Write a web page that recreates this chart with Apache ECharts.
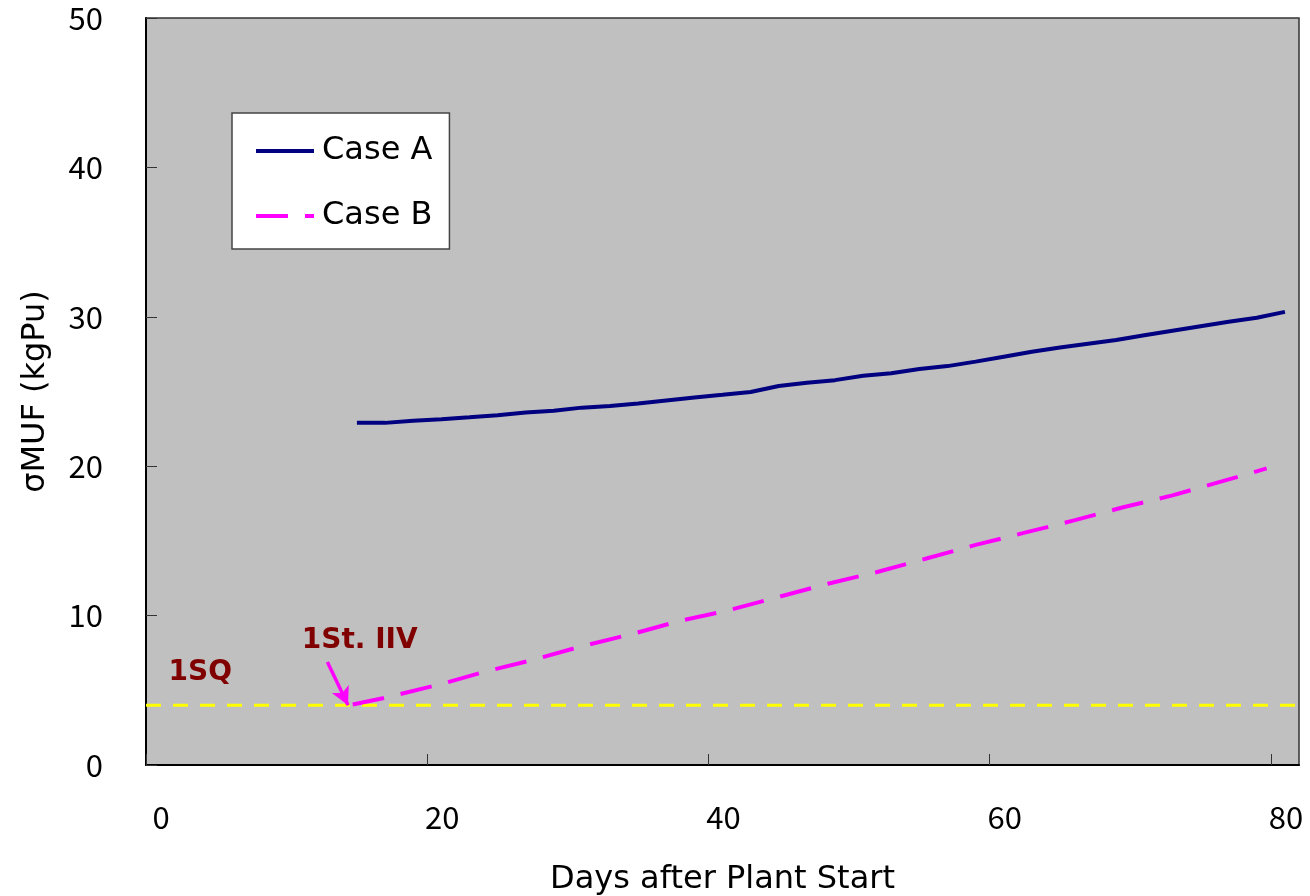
<!DOCTYPE html>
<html>
<head>
<meta charset="utf-8">
<script src="https://cdn.jsdelivr.net/npm/echarts@6/dist/echarts.min.js"></script>
<style>
  html, body { margin: 0; padding: 0; background: #fff; }
  #chart { width: 1310px; height: 896px; }
</style>
</head>
<body>
<div id="chart"></div>
<script>
// days / values
const daysA = [15, 17, 19, 21, 23, 25, 27, 29, 31, 33, 35, 37, 39, 41, 43, 45, 47,
  49, 51, 53, 55, 57, 59, 61, 63, 65, 67, 69, 71, 73, 75, 77, 79, 81]
const caseA = [22.9, 22.9, 23.05, 23.15, 23.27, 23.41, 23.6, 23.71, 23.92, 24.03, 24.2,
  24.4, 24.6, 24.78, 24.97, 25.37, 25.58, 25.76, 26.06, 26.22, 26.5, 26.7, 27.0, 27.33,
  27.66, 27.95, 28.2, 28.45, 28.77, 29.07, 29.37, 29.67, 29.94, 30.33]

const daysB = [14.7, 17, 21, 24, 27.5, 31, 34.5, 38, 41.5, 45, 48.5, 52, 55.5, 59,
  62.5, 66, 69.5, 73, 76.5, 79.7]
const caseB = [4.05, 4.5, 5.42, 6.22, 7.03, 7.95, 8.75, 9.65, 10.37, 11.25, 12.13,
  12.92, 13.82, 14.73, 15.55, 16.37, 17.25, 18.05, 18.98, 19.85]

// 1 SQ level
const sqDays = [0, 82]
const sqLevel = [4, 4]

const xTicks = [0, 20, 40, 60, 80]
const seriesNames = ['Case A', 'Case B']

const NUM_FONT = 'Noto Sans CJK JP'
const FONT = 'DejaVu Sans'

const chart = echarts.init(document.getElementById('chart'))

const option = {
  animation: false,
  textStyle: { fontFamily: FONT },
  grid: {
    left: 146,
    right: 11,
    top: 18,
    bottom: 131,
    outerBoundsMode: 'none',
    show: true,
    backgroundColor: '#c0c0c0',
    borderColor: '#333',
    borderWidth: 1.5
  },
  legend: {
    data: seriesNames,
    orient: 'vertical',
    left: 232,
    top: 113,
    padding: [18, 17, 13, 22],
    itemWidth: 58,
    itemHeight: 14,
    itemGap: 25,
    backgroundColor: '#fff',
    borderColor: '#444',
    borderWidth: 1.5,
    // hide the marker dot, keep the line sample
    itemStyle: { opacity: 0 },
    lineStyle: { width: 4 },
    textStyle: {
      fontFamily: FONT,
      fontSize: 32,
      lineHeight: 34,
      color: '#000',
      padding: [6, 0, 0, 3]
    }
  },
  xAxis: {
    type: 'value',
    min: 0,
    max: 82,
    interval: 20,
    name: 'Days after Plant Start',
    nameLocation: 'middle',
    nameGap: 99,
    nameTextStyle: { fontFamily: FONT, fontSize: 32, color: '#000' },
    axisLine: { lineStyle: { color: '#000', width: 2 } },
    axisTick: { inside: true, length: 11, lineStyle: { color: '#333' } },
    axisLabel: {
      fontFamily: NUM_FONT,
      fontSize: 31,
      color: '#000',
      margin: 37,
      padding: [0, 0, 0, 30],
      showMaxLabel: false,
      formatter: v => (xTicks.includes(v) ? String(v) : '')
    },
    splitLine: { show: false }
  },
  yAxis: {
    type: 'value',
    min: 0,
    max: 50,
    interval: 10,
    name: 'σMUF (kgPu)',
    nameLocation: 'middle',
    nameGap: 94,
    nameRotate: 90,
    nameTextStyle: { fontFamily: FONT, fontSize: 32, color: '#000' },
    axisLine: { show: true, lineStyle: { color: '#000', width: 2 } },
    axisTick: { show: true, inside: true, length: 11, lineStyle: { color: '#333' } },
    axisLabel: {
      fontFamily: NUM_FONT,
      fontSize: 31,
      color: '#000',
      margin: 43,
      padding: [12, 0, 0, 0]
    },
    splitLine: { show: false }
  },
  series: [
    {
      name: '1SQ',
      type: 'line',
      symbol: 'none',
      silent: true,
      data: sqDays.map((d, i) => [d, sqLevel[i]]),
      lineStyle: { color: '#ffff00', width: 3, type: [15, 12] },
      markPoint: {
        symbol: 'circle',
        symbolSize: 1,
        silent: true,
        itemStyle: { color: 'transparent' },
        label: {
          show: true,
          position: 'inside',
          formatter: p => p.name,
          fontFamily: FONT,
          fontSize: 28,
          fontWeight: 'bold',
          color: '#800000'
        },
        data: [
          { name: '1SQ', coord: [3.86, 6.2] },
          { name: '1St. IIV', coord: [15.2, 8.3] }
        ]
      }
    },
    {
      name: 'Case A',
      type: 'line',
      symbol: 'none',
      data: daysA.map((d, i) => [d, caseA[i]]),
      itemStyle: { color: '#000080' },
      lineStyle: { color: '#000080', width: 4 }
    },
    {
      name: 'Case B',
      type: 'line',
      symbol: 'none',
      data: daysB.map((d, i) => [d, caseB[i]]),
      itemStyle: { color: '#ff00ff' },
      lineStyle: { color: '#ff00ff', width: 4, type: [32, 17] },
      markLine: {
        silent: true,
        symbol: ['none', 'arrow'],
        symbolSize: [14, 18],
        label: { show: false },
        lineStyle: { color: '#ff00ff', width: 3.5, type: 'solid' },
        data: [
          [{ coord: [12.9, 6.9] }, { coord: [14.37, 4.0] }]
        ]
      }
    }
  ]
}

chart.setOption(option)
</script>
</body>
</html>
